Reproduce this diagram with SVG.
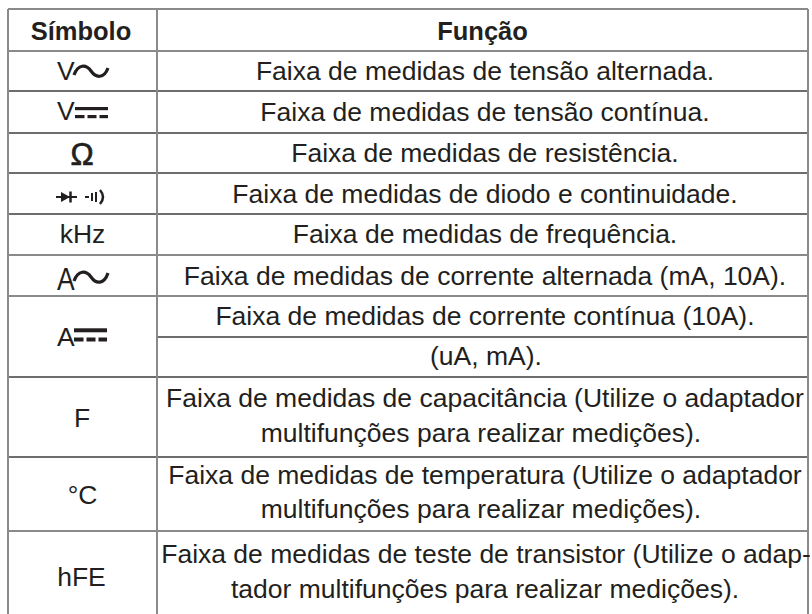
<svg xmlns="http://www.w3.org/2000/svg" width="812" height="614" viewBox="0 0 812 614">
<style>
.t{font-family:"Liberation Sans",Arial,sans-serif;font-size:26.5px;fill:#231f20}
.c{text-anchor:middle}
.h{font-weight:bold;font-size:25.5px}
.g{stroke:#8a8a8a;stroke-width:2;fill:none}
.d{stroke:#3c3c3c;stroke-width:1.6;fill:none}
.sym{stroke:#231f20;fill:none}
.f{fill:#231f20}
</style>
<rect width="812" height="614" fill="#ffffff"/>
<g id="grid">
<line class="g" x1="8" y1="9" x2="808" y2="9"/>
<line class="g" x1="8" y1="51" x2="808" y2="51"/>
<line class="d" x1="8" y1="91" x2="808" y2="91"/>
<line class="d" x1="8" y1="133" x2="808" y2="133"/>
<line class="d" x1="8" y1="173" x2="808" y2="173"/>
<line class="d" x1="8" y1="214" x2="808" y2="214"/>
<line class="g" x1="8" y1="255" x2="808" y2="255"/>
<line class="g" x1="8" y1="296" x2="808" y2="296"/>
<line class="d" x1="157" y1="337" x2="808" y2="337"/>
<line class="d" x1="8" y1="377" x2="808" y2="377"/>
<line class="d" x1="8" y1="457" x2="808" y2="457"/>
<line class="g" x1="8" y1="531" x2="808" y2="531"/>
<line class="g" x1="8" y1="9" x2="8" y2="614"/>
<line class="g" x1="157" y1="9" x2="157" y2="614"/>
<line class="g" x1="808" y1="9" x2="808" y2="614"/>
</g>
<g id="header">
<text class="t c h" x="81" y="40">Símbolo</text>
<text class="t c h" x="482.5" y="40">Função</text>
</g>
<g id="row-vac">
<text class="t" x="57" y="80">V</text>
<path class="sym" stroke-width="3.2" d="M74,75 C78,64 86,64 91,71 C96,78 104,79 108,68"/>
<text class="t c" x="485" y="80">Faixa de medidas de tensão alternada.</text>
</g>
<g id="row-vdc">
<text class="t" x="57" y="120">V</text>
<rect class="f" x="75" y="107" width="33" height="3.2"/>
<rect class="f" x="75" y="115" width="9.5" height="3.2"/>
<rect class="f" x="87.5" y="115" width="9" height="3.2"/>
<rect class="f" x="99.5" y="115" width="8.5" height="3.2"/>
<text class="t c" x="485" y="121">Faixa de medidas de tensão contínua.</text>
</g>
<g id="row-ohm">
<text class="t c" x="82" y="165" style="font-size:31px;stroke:#231f20;stroke-width:0.7">Ω</text>
<text class="t c" x="485" y="162">Faixa de medidas de resistência.</text>
</g>
<g id="row-diode">
<line class="sym" stroke-width="2" x1="56" y1="197" x2="77" y2="197"/>
<path class="f" d="M61,192 L70,197 L61,202 Z"/>
<line class="sym" stroke-width="2.5" x1="70.5" y1="191.5" x2="70.5" y2="202.5"/>
<line class="sym" stroke-width="2" x1="85" y1="197" x2="89" y2="197"/>
<line class="sym" stroke-width="2" x1="92" y1="193" x2="92" y2="201"/>
<line class="sym" stroke-width="2" x1="96" y1="192" x2="96" y2="202"/>
<path class="sym" stroke-width="2.5" d="M100,190 Q106,197 100,204"/>
<text class="t c" x="485" y="203">Faixa de medidas de diodo e continuidade.</text>
</g>
<g id="row-khz">
<text class="t c" x="82.5" y="243">kHz</text>
<text class="t c" x="485" y="243">Faixa de medidas de frequência.</text>
</g>
<g id="row-aac">
<text class="t" transform="translate(57,290) scale(1,1.2)">A</text>
<path class="sym" stroke-width="3.2" d="M74,281 C78,270 86,270 91,277 C96,284 104,285 108,273"/>
<text class="t c" x="485" y="285">Faixa de medidas de corrente alternada (mA, 10A).</text>
</g>
<g id="row-adc">
<text class="t" x="57" y="346">A</text>
<rect class="f" x="74" y="328.3" width="33" height="4"/>
<rect class="f" x="74" y="337.5" width="9.5" height="4"/>
<rect class="f" x="86.5" y="337.5" width="9" height="4"/>
<rect class="f" x="98.5" y="337.5" width="8.5" height="4"/>
<text class="t c" x="485" y="325">Faixa de medidas de corrente contínua (10A).</text>
<text class="t c" x="486" y="365">(uA, mA).</text>
</g>
<g id="row-f">
<text class="t c" x="82" y="427">F</text>
<text class="t c" x="485" y="407">Faixa de medidas de capacitância (Utilize o adaptador</text>
<text class="t c" x="481" y="442">multifunções para realizar medições).</text>
</g>
<g id="row-c">
<text class="t c" x="82.5" y="504">°C</text>
<text class="t c" x="485" y="484">Faixa de medidas de temperatura (Utilize o adaptador</text>
<text class="t c" x="481" y="518">multifunções para realizar medições).</text>
</g>
<g id="row-hfe">
<text class="t c" x="81.5" y="586">hFE</text>
<text class="t c" x="486" y="563">Faixa de medidas de teste de transistor (Utilize o adap-</text>
<text class="t c" x="485" y="598">tador multifunções para realizar medições).</text>
</g>
</svg>
